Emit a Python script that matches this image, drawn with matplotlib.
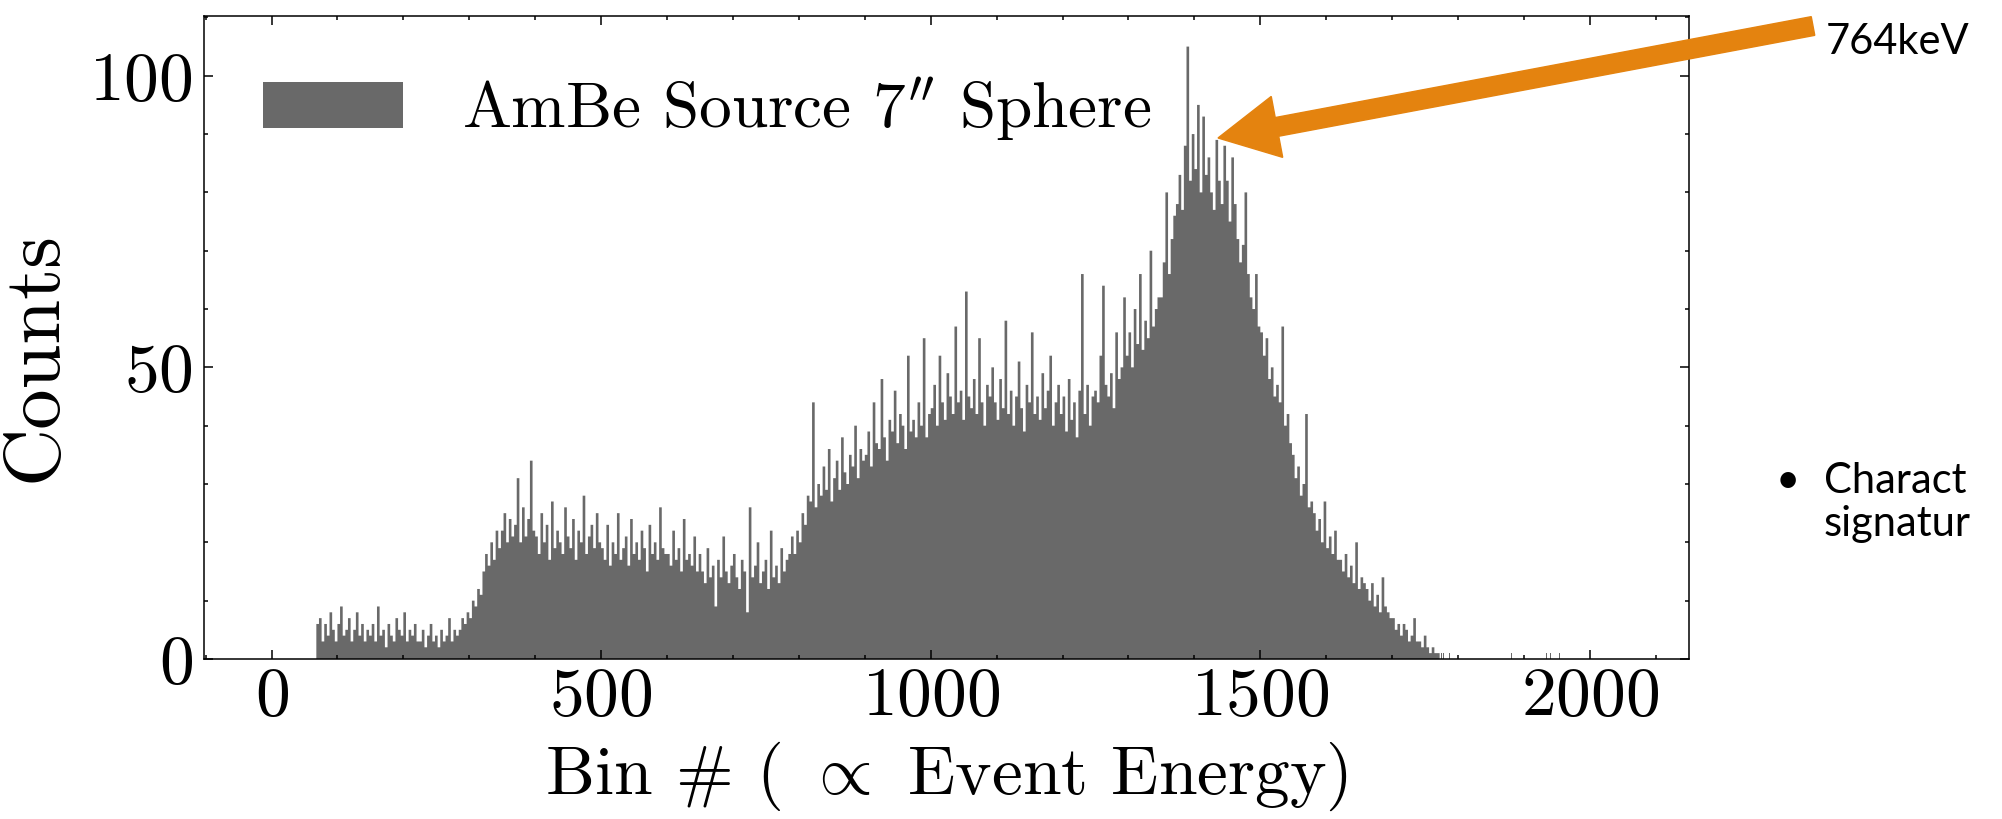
import numpy as np
import matplotlib
matplotlib.use('Agg')
import matplotlib.pyplot as plt
from matplotlib.ticker import MultipleLocator
from matplotlib.patches import FancyArrow
from matplotlib.transforms import IdentityTransform

plt.rcParams['font.family'] = 'serif'
plt.rcParams['font.serif'] = ['cmr10']
plt.rcParams['mathtext.fontset'] = 'cm'
plt.rcParams['axes.formatter.use_mathtext'] = True

# counts, one value per group of 4 bins, starting at bin 68
first_bin = 68
group = 4
counts_low = [6, 7, 3, 6, 4, 8, 5, 3, 6, 9, 4, 5, 7, 3, 5, 8, 4, 6, 3, 5,
              4, 6, 3, 9, 4, 5, 2, 6, 4, 3, 7, 5, 4, 8, 3, 5, 4, 6, 3,
              3, 5, 2, 4, 6, 3, 4, 2, 5, 3, 4, 7, 3, 5, 4,
              5, 7, 6, 8, 7, 10, 9, 12, 11]
counts_plateau = [15, 18, 16, 20, 17, 22, 19,
                  22, 25, 20, 24, 21, 23, 31, 20, 26, 21, 24, 34, 22,
                  21, 18, 25, 20, 23, 17, 27, 19, 22, 20, 18, 26, 21, 19, 24, 17, 22, 20, 28, 18, 21, 23, 19, 25, 20,
                  19, 17, 23, 16, 20, 18, 25, 17, 19, 21, 16, 24, 18, 20, 17, 22, 19, 15, 23, 18, 20, 17, 26, 19, 18,
                  18, 16, 22, 17, 19, 15, 24, 17, 18, 16, 21, 15, 18,
                  15, 13, 19, 14, 16, 9, 17, 14, 21, 15, 13, 16, 18, 14, 12, 17, 15, 8, 26, 14, 16, 20, 13, 15, 17,
                  12, 22, 14, 16, 13, 19, 15, 17, 18, 21,
                  18, 22, 20, 25, 23, 28]
counts_rise = [27, 44, 26, 30, 28, 33, 29, 36, 27, 31, 34, 29, 38, 32, 30, 35, 33, 40, 31, 36, 34,
               35, 39, 33, 44, 37, 36, 48, 38, 34, 41, 39, 46, 37, 42, 40, 36, 52, 39, 41, 38, 44, 40, 55, 38, 42,
               43, 47, 40, 52, 44, 41, 49, 45, 42, 57, 44, 46, 41, 63, 45, 43, 48, 42, 55, 44, 40, 47, 45, 50,
               44, 41, 48, 43, 58, 42, 46, 40, 45, 51, 43, 39, 47, 44, 56, 42, 45, 41, 49, 43, 46, 52, 40, 44, 47,
               42, 45, 39, 48, 41, 44, 38, 46, 66, 42, 47, 40, 45,
               46, 44, 52, 64, 47, 45, 49, 43, 56, 48, 50, 62,
               52, 56, 50, 60, 54, 66, 53, 58, 55, 70, 57, 60, 62]
counts_peak = [62, 68, 80, 66, 72, 76,
               78, 83, 77, 88, 105, 82, 90, 84, 95, 80, 93, 83, 86,
               80, 77, 89, 82, 78, 88, 82, 75, 86, 78,
               72, 68, 71, 80, 66, 62,
               60, 66, 57,
               56, 52, 55, 48, 50, 45, 47,
               44, 57, 40, 42, 37]
counts_fall = [35, 31, 33, 28, 30, 42, 26, 27,
               25, 22, 24, 20, 27, 19, 21, 18, 22, 17,
               17, 15, 18, 14, 16, 13, 20, 12, 14, 13,
               12, 10, 13, 9, 11, 8, 14, 9, 8, 7,
               7, 5, 6, 4, 6, 5, 3, 4, 7, 3,
               3, 2, 4, 2, 1, 2,
               1, 1]
# sparse single bins beyond the end of the spectrum
tail_bins = [1774, 1777, 1781, 1786, 1790, 1851, 1881, 1934, 1940, 1953]
tail_counts = [1, 1, 2, 1, 1, 1, 1, 1, 1, 1]

counts = np.concatenate([counts_low, counts_plateau, counts_rise,
                         counts_peak, counts_fall])
edges = first_bin + group*np.arange(len(counts) + 1)

fig = plt.figure(figsize=(20.02, 8.19), dpi=100)
ax = fig.add_axes([0.1019, 0.1954, 0.7418, 0.7851])

ax.hist(edges[:-1], bins=edges, weights=counts, histtype='stepfilled',
        color='dimgray', label=r"AmBe Source 7$^{\prime\prime}$ Sphere")
ax.bar(tail_bins, tail_counts, width=1, align='edge', color='dimgray')

ax.set_xlim(-102.4, 2150.4)
ax.set_ylim(0, 110.25)
ax.xaxis.set_major_locator(MultipleLocator(500))
ax.xaxis.set_minor_locator(MultipleLocator(100))
ax.yaxis.set_major_locator(MultipleLocator(50))
ax.yaxis.set_minor_locator(MultipleLocator(10))
ax.tick_params(which='both', direction='in', top=True, right=True,
               width=1.1, labelsize=50)
ax.tick_params(which='major', length=6.5)
ax.tick_params(which='minor', length=3.2)
ax.tick_params(axis='x', pad=6)
ax.tick_params(axis='y', pad=8)
for s in ax.spines.values():
    s.set_linewidth(1.1)

ax.set_xlabel(r'Bin # ( $\propto$ Event Energy)', fontsize=50, labelpad=8)
ax.set_ylabel('Counts', fontsize=58)
ax.yaxis.set_label_coords(-0.0895, 0.47)
ax.legend(loc='upper left', frameon=False, fontsize=47, handlelength=2.15,
          handletextpad=0.9, borderaxespad=0.5)

# slide annotations around the plot
arrow = FancyArrow(1813, 793, 1218 - 1813, 681 - 793, width=19,
                   head_width=62, head_length=60, length_includes_head=True,
                   color='#E4830F', transform=IdentityTransform())
fig.add_artist(arrow)
side = dict(fontsize=30, family=['Lato'], va='center', ha='left')
fig.text(1826/2002, 1 - 42/819, '764keV', **side)
fig.text(1776/2002, 1 - 481/819, '\u2022', **side)
fig.text(1824/2002, 1 - 481/819, 'Charact', **side)
fig.text(1824/2002, 1 - 524/819, 'signatur', **side)

fig.savefig('out.png', dpi=100)
